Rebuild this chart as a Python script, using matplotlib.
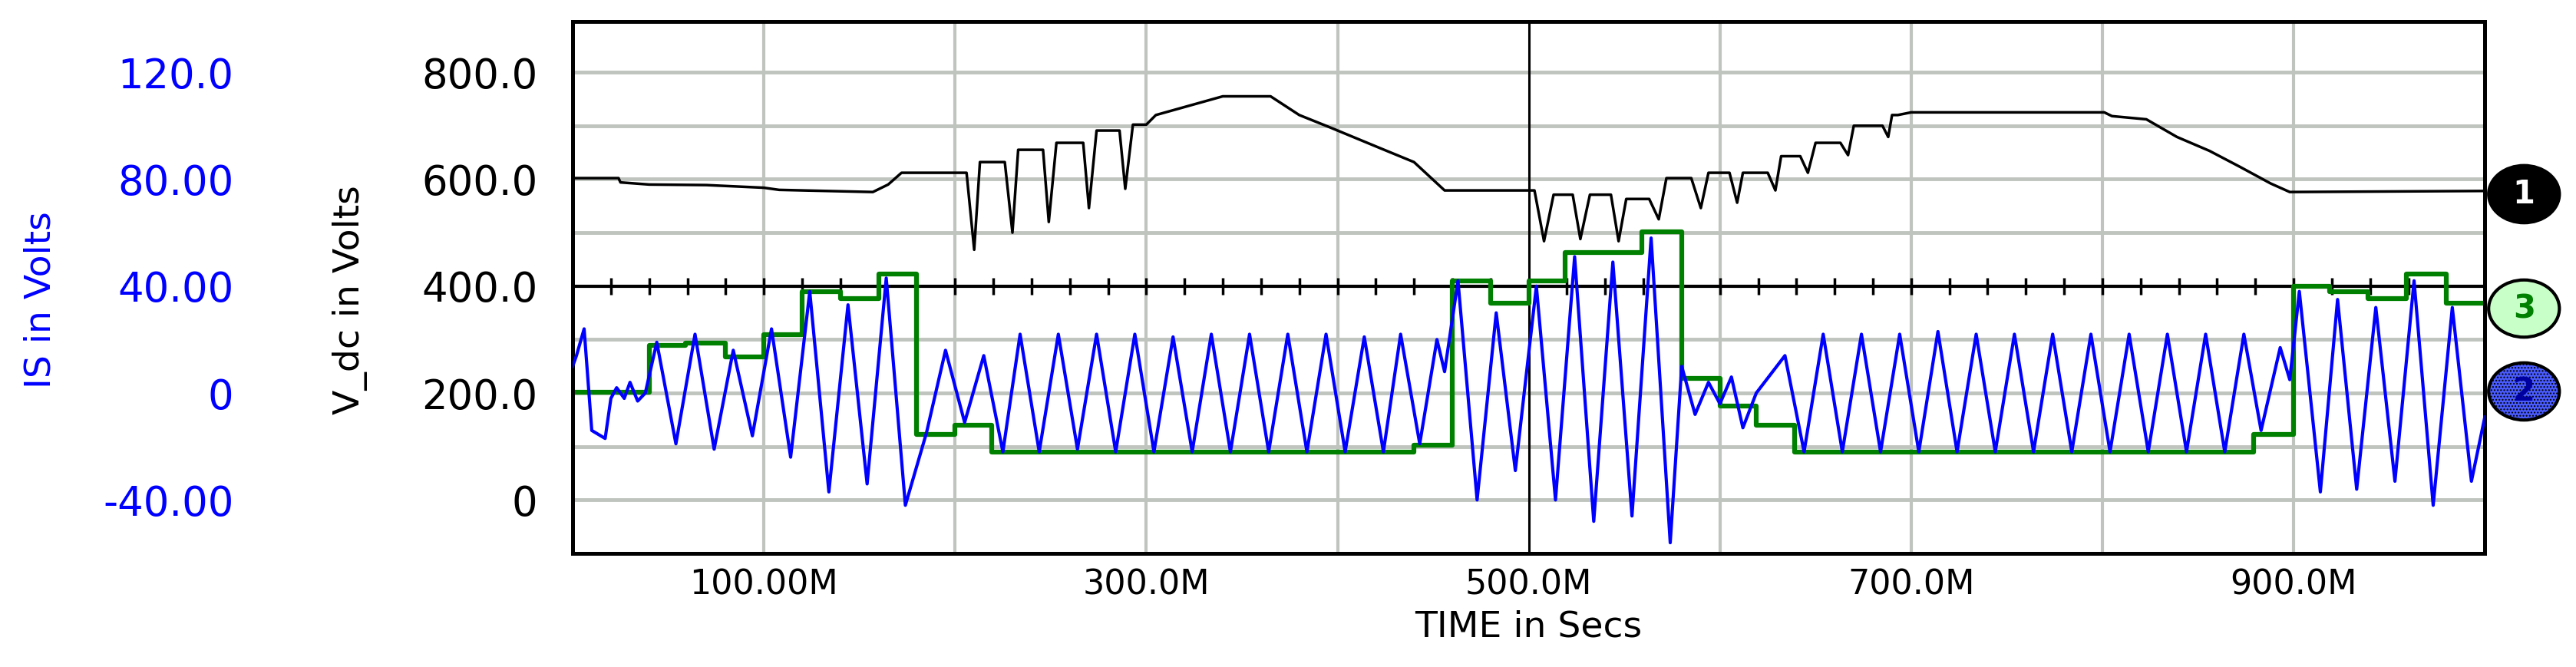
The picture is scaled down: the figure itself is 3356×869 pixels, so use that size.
import matplotlib
matplotlib.use('Agg')
import matplotlib.pyplot as plt
import matplotlib.transforms as mtransforms
from matplotlib.patches import Ellipse

# time axis in units of M (as labelled on the plot)
vdc_t = [0, 24, 25, 40, 70, 100, 108, 157, 165, 172, 200, 206, 210, 213, 220, 226, 230, 233, 240,
         246, 249, 253, 260, 267, 270, 274, 280, 286, 289, 293, 300, 305, 340, 365, 380, 396, 423,
         440, 456, 497, 503, 508, 513, 518, 523, 527, 532, 537, 543, 547, 551, 556, 563, 568, 572,
         576, 585, 590, 594, 598, 605, 609, 612, 616, 625, 629, 632, 635, 642, 646, 650, 654, 663,
         667, 670, 673, 685, 688, 690, 693, 700, 801, 805, 823, 839, 856, 872, 888, 898, 1000]
vdc_v = [602, 602, 594, 590, 589, 584, 580, 576, 590, 612, 612, 612, 468, 632, 632, 632, 500, 655, 655,
         655, 520, 668, 668, 668, 546, 691, 691, 691, 582, 702, 702, 720, 755, 755, 720, 697, 657,
         632, 579, 579, 579, 484, 571, 571, 571, 488, 571, 571, 571, 484, 563, 563, 563, 525, 602,
         602, 602, 546, 612, 612, 612, 556, 612, 612, 612, 579, 643, 643, 643, 612, 668, 668, 668,
         645, 700, 700, 700, 679, 720, 720, 725, 725, 718, 712, 679, 653, 623, 592, 576, 578]

green_t = [0, 40, 59, 80, 100, 120, 140, 160, 180, 200, 219, 440, 460, 480, 500, 519, 559,
           580, 600, 619, 639, 879, 900, 919, 939, 959, 980, 1000]
green_v = [202, 289, 294, 268, 309, 389, 376, 422, 122, 140, 89, 102, 409, 368, 409, 463, 502,
           227, 176, 140, 89, 122, 400, 389, 376, 422, 368, 368]

is_t = [0, 2, 6, 10, 17, 20, 23, 27, 30, 34, 38,
        44, 54, 64, 74, 84, 94, 104, 114, 124, 134, 144, 154, 164, 174, 185, 195, 205, 215, 225,
        234, 244, 254, 264, 274, 284, 294, 304, 314, 324, 334, 344, 354, 364, 374, 384, 394, 404,
        414, 424, 433,
        443, 452, 456, 463, 473, 483, 493, 504, 514, 524, 534, 544, 554, 564, 574, 580, 587, 594,
        600, 606, 612, 619, 634, 644,
        654, 664, 674, 684, 694, 704, 714, 724, 734, 744, 754, 764, 774, 784, 794, 804, 814, 824,
        834, 844, 854, 864, 874,
        883, 893, 898, 903, 914, 923, 933, 943, 953, 963, 973, 983, 993, 1000]
is_v = [10, 14, 24, -14, -17, -2, 2, -2, 4, -3, 0,
        19, -19, 22, -21, 16, -16, 24, -24, 38, -37, 33, -34, 43, -42, -15, 16, -11, 14, -22,
        22, -22, 22, -21, 22, -22, 22, -22, 21, -22, 22, -22, 22, -22, 22, -22, 22, -22,
        21, -22, 22,
        -19, 20, 8, 42, -40, 30, -29, 40, -40, 51, -48, 49, -46, 58, -56, 10, -8, 4,
        -4, 6, -13, 0, 14, -22,
        22, -22, 22, -22, 22, -22, 23, -22, 22, -22, 22, -22, 22, -22, 22, -22, 22, -22,
        22, -22, 22, -22, 22,
        -14, 17, 5, 38, -37, 35, -36, 32, -33, 42, -42, 32, -33, -9]

v_ticks = [0, 200, 400, 600, 800]
v_labels = ['0', '200.0', '400.0', '600.0', '800.0']
is_ticks = [-40, 0, 40, 80, 120]
is_labels = ['-40.00', '0', '40.00', '80.00', '120.0']
x_ticks = [100, 300, 500, 700, 900]
x_labels = ['100.00M', '300.0M', '500.0M', '700.0M', '900.0M']

plt.rcParams['font.family'] = ['DejaVu Sans']
grid_col = '#c0c4be'

fig = plt.figure(figsize=(33.56, 8.69), dpi=100)
ax = fig.add_axes([0.2223, 0.1703, 0.7423, 0.7975])
ax.set_xlim(0, 1000)
ax.set_ylim(-100, 895)

for x in range(100, 1000, 100):
    if x == 500:
        ax.axvline(x, color='black', lw=2.2, zorder=1)
    else:
        ax.axvline(x, color=grid_col, lw=3, zorder=0)
for y in range(0, 900, 100):
    if y == 400:
        ax.axhline(y, color='black', lw=3, zorder=1)
    else:
        ax.axhline(y, color=grid_col, lw=3.5, zorder=0)
ax.plot(list(range(20, 1000, 20)), [400] * 49, ls='none', marker='|', ms=16, mew=2.5,
        color='black', zorder=1)

ax.plot(vdc_t, vdc_v, color='black', lw=2.5, zorder=3)
ax.step(green_t, green_v, where='post', color='#008000', lw=4.5, zorder=3)

ax2 = ax.twinx()
ax2.set_ylim(-60, 139)
ax2.plot(is_t, is_v, color='#0000ff', lw=3, zorder=4)
ax2.yaxis.tick_left()
ax2.set_yticks(is_ticks)
ax2.set_yticklabels(is_labels, color='#0000ff', fontsize=38)
ax2.tick_params(axis='y', length=0, pad=318)

ax.set_yticks(v_ticks)
ax.set_yticklabels(v_labels, fontsize=38)
ax.tick_params(axis='y', length=0, pad=33)
ax.set_xticks(x_ticks)
ax.set_xticklabels(x_labels, fontsize=32)
ax.tick_params(axis='x', length=0, pad=14)
ax.set_xlabel('TIME in Secs', fontsize=34, labelpad=8)

for a in (ax, ax2):
    for s in a.spines.values():
        s.set_linewidth(3.5)

fig.text(456 / 3356, 0.55, 'V_dc in Volts', rotation=90, ha='center', va='center', fontsize=34)
fig.text(53 / 3356, 0.55, 'IS in Volts', rotation=90, ha='center', va='center', fontsize=34,
         color='#0000ff')

# trace markers on the right
trans = mtransforms.blended_transform_factory(ax.transAxes, ax.transData)
markers = [('1', 572, 'black', 'white', 'black', None),
           ('3', 358, '#c8ffc8', '#008000', 'black', None),
           ('2', 203, '#4a5cff', '#0000a0', 'black', '....')]
for lab, yv, fc, tc, ec, hatch in markers:
    e = Ellipse((1.0205, yv), 0.037, 107, transform=trans, facecolor=fc, edgecolor=ec,
                lw=3, hatch=hatch, clip_on=False, zorder=5)
    ax2.add_patch(e)
    ax2.text(1.0205, yv, lab, transform=trans, ha='center', va='center', fontsize=30,
             fontweight='bold', color=tc, clip_on=False, zorder=6)

fig.savefig('out.png', dpi=100)
